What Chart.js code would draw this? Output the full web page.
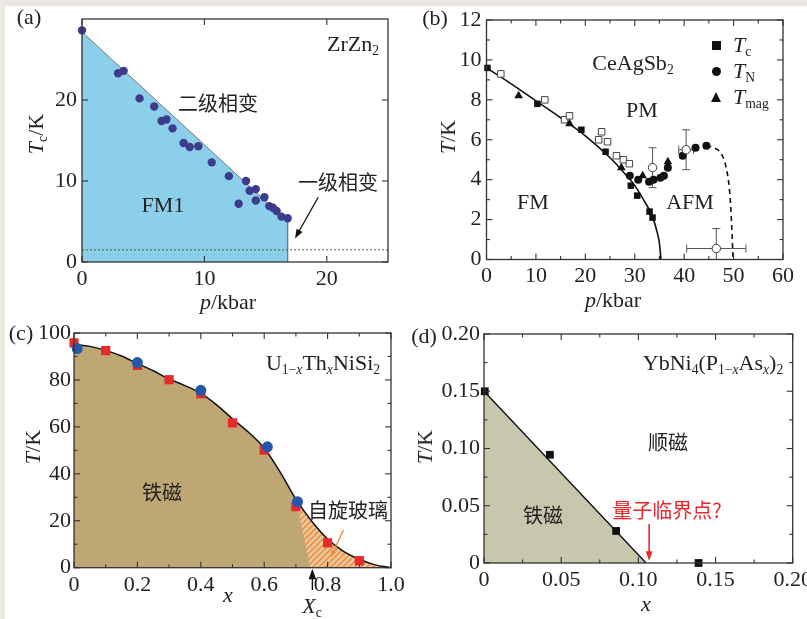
<!DOCTYPE html>
<html>
<head>
<meta charset="utf-8">
<script src="https://cdn.jsdelivr.net/npm/chart.js@4.4.1/dist/chart.umd.min.js"></script>
<style>
html, body { margin: 0; padding: 0; }
body { width: 807px; height: 619px; position: relative; overflow: hidden; background: #ebe7e1;
       font-family: 'Liberation Serif', 'Times New Roman', serif; color: #222; }
#sheet { position: absolute; left: 5px; top: 6px; right: 0; bottom: 0; background: #fff; }
canvas { position: absolute; }
.t { position: absolute; transform: translate(-50%, -50%); white-space: nowrap; font-size: 22px; line-height: 1; }
.l { position: absolute; transform: translate(0, -50%); white-space: nowrap; font-size: 22px; line-height: 1; }
.rot { transform: translate(-50%, -50%) rotate(-90deg); }
.cjk { font-family: 'Noto Sans CJK SC', sans-serif; font-size: 20px; }
sub { font-size: 62%; vertical-align: -0.28em; line-height: 0; }
.mk { position: absolute; }
</style>
</head>
<body>
<div id="sheet"></div>
<canvas id="ca" width="403" height="310" style="left:0;top:0"></canvas>
<canvas id="cb" width="404" height="310" style="left:403px;top:0"></canvas>
<canvas id="cc" width="420" height="309" style="left:0;top:310px"></canvas>
<canvas id="cd" width="404" height="309" style="left:403px;top:310px"></canvas>

<!-- (a) -->
<div class="t" style="left:29px;top:17px">(a)</div>
<div class="t" style="left:353px;top:44px">ZrZn<sub>2</sub></div>
<div class="t cjk" style="left:218px;top:103px">二级相变</div>
<div class="t" style="left:163px;top:205px">FM1</div>
<div class="t cjk" style="left:338px;top:182px">一级相变</div>
<div class="t rot" style="left:36px;top:134px"><i>T</i><sub>c</sub>/K</div>
<div class="t" style="left:228px;top:302px"><i>p</i>/kbar</div>

<!-- (b) -->
<div class="t" style="left:435px;top:18px">(b)</div>
<div class="t" style="left:633px;top:63px">CeAgSb<sub>2</sub></div>
<div class="t" style="left:642px;top:110px">PM</div>
<div class="t" style="left:533px;top:202px">FM</div>
<div class="t" style="left:690px;top:202px">AFM</div>
<div class="t rot" style="left:448px;top:137px"><i>T</i>/K</div>
<div class="t" style="left:613px;top:300px"><i>p</i>/kbar</div>
<div class="mk" style="left:712px;top:41px;width:9px;height:9px;background:#111"></div>
<div class="mk" style="left:712px;top:67px;width:9px;height:9px;border-radius:50%;background:#111"></div>
<div class="mk" style="left:711px;top:92px;width:0;height:0;border-left:5.5px solid transparent;border-right:5.5px solid transparent;border-bottom:10px solid #111"></div>
<div class="l" style="left:733px;top:45px"><i>T</i><sub>c</sub></div>
<div class="l" style="left:733px;top:71px"><i>T</i><sub>N</sub></div>
<div class="l" style="left:733px;top:97px"><i>T</i><sub>mag</sub></div>

<!-- (c) -->
<div class="t" style="left:21px;top:333px">(c)</div>
<div class="t" style="left:323px;top:363px">U<sub>1−<i>x</i></sub>Th<sub><i>x</i></sub>NiSi<sub>2</sub></div>
<div class="t cjk" style="left:162px;top:492px">铁磁</div>
<div class="t cjk" style="left:348px;top:510px">自旋玻璃</div>
<div class="t rot" style="left:33px;top:447px"><i>T</i>/K</div>
<div class="t" style="left:228px;top:595px"><i>x</i></div>
<div class="t" style="left:312px;top:606px"><i>X</i><sub>c</sub></div>

<!-- (d) -->
<div class="t" style="left:424px;top:336px">(d)</div>
<div class="t" style="left:713px;top:363px">YbNi<sub>4</sub>(P<sub>1−<i>x</i></sub>As<sub><i>x</i></sub>)<sub>2</sub></div>
<div class="t cjk" style="left:668px;top:442px">顺磁</div>
<div class="t cjk" style="left:543px;top:515px">铁磁</div>
<div class="t cjk" style="left:667px;top:510px;color:#e8262b">量子临界点?</div>
<div class="t rot" style="left:425px;top:447px"><i>T</i>/K</div>
<div class="t" style="left:646px;top:604px"><i>x</i></div>

<script>
// ---------- (a) ZrZn2 ----------
const zrP  = [0, 2.95, 3.4, 4.7, 5.9, 6.5, 6.9, 7.4, 8.3, 8.8, 9.5, 10.6, 12.0, 12.8, 13.4, 13.7, 14.2, 14.2, 14.9, 15.3, 15.6, 15.9, 16.3, 16.8];
const zrTc = [28.6, 23.3, 23.6, 20.2, 19.2, 17.4, 17.6, 16.5, 14.7, 14.2, 14.3, 12.3, 10.6, 7.2, 10.0, 8.8, 9.0, 7.6, 8.0, 6.9, 6.7, 6.3, 5.6, 5.4];
const zrEdgeP = [0, 16.8, 16.8];
const zrEdgeT = [28.4, 5.0, 0];
const zrDotP = [0, 25];
const zrDotT = [1.5, 1.5];
const aTicksX = [0, 10, 20], aLabelsX = ['0', '10', '20'];
const aTicksY = [0, 10, 20], aLabelsY = ['0', '10', '20'];

// ---------- (b) CeAgSb2 ----------
const tcP = [0.2, 10.3, 19.2, 24.1, 29.2, 30.5, 33.0, 33.6];
const tcT = [9.6, 7.8, 6.5, 5.4, 3.7, 3.2, 2.4, 2.1];
const tcOpenP = [2.9, 11.8, 15.8, 16.8, 23.3, 22.7, 24.5, 26.3, 27.7, 28.9];
const tcOpenT = [9.3, 8.0, 7.0, 7.2, 6.4, 6.0, 5.9, 5.2, 5.0, 4.8];
const tnP = [29.0, 30.7, 32.9, 33.8, 35.2, 35.9, 36.7, 39.7, 42.3, 44.5];
const tnT = [4.2, 4.0, 3.9, 4.0, 4.1, 4.2, 4.6, 5.2, 5.6, 5.7];
const tmagP = [6.5, 16.8, 27.3, 31.6, 36.7];
const tmagT = [8.2, 6.8, 4.6, 4.2, 4.9];
const openP  = [33.6, 40.4, 46.5];
const openT  = [4.6, 5.5, 0.55];
const openDp = [0, 1.5, 6.0];
const openDT = [1.0, 1.0, 1.0];
const tcCurveP = [0, 5, 10, 15, 20, 25, 28, 30, 32, 33.5, 34.5, 35, 35.3];
const tcCurveT = [9.6, 8.8, 7.95, 7.1, 6.2, 5.1, 4.3, 3.7, 2.9, 2.2, 1.4, 0.8, 0];
const tnDashP = [44.5, 46, 47.5, 48.5, 49.2, 49.6, 49.9];
const tnDashT = [5.7, 5.6, 5.3, 4.6, 3.4, 1.8, 0];
const bTicksX = [0, 10, 20, 30, 40, 50, 60], bLabelsX = ['0', '10', '20', '30', '40', '50', '60'];
const bTicksY = [0, 2, 4, 6, 8, 10, 12], bLabelsY = ['0', '2', '4', '6', '8', '10', '12'];

// ---------- (c) U1-xThxNiSi2 ----------
const uSqX = [0, 0.1, 0.2, 0.3, 0.4, 0.5, 0.6, 0.7, 0.8, 0.9];
const uSqT = [95.8, 92.5, 86.2, 80.1, 74.1, 61.7, 50.1, 26.0, 10.6, 3.0];
const uCiX = [0.01, 0.2, 0.4, 0.61, 0.705];
const uCiT = [93.4, 87.4, 75.6, 51.5, 28.1];
const uCurveX = [0, 0.05, 0.1, 0.15, 0.2, 0.25, 0.3, 0.35, 0.4, 0.45, 0.5, 0.55, 0.6, 0.65, 0.7, 0.75, 0.8, 0.85, 0.9, 0.95, 1.0];
const uCurveT = [95.2, 94.3, 92.6, 90.2, 87.0, 83.9, 80.4, 77.6, 74.3, 69.4, 63.4, 57.8, 51.0, 40.8, 29.2, 19.8, 12.2, 7.0, 3.6, 1.2, 0];
const glassEdgeX = [0.745];
const glassEdgeT = [0];
const cTicksX = [0, 0.2, 0.4, 0.6, 0.8, 1.0], cLabelsX = ['0', '0.2', '0.4', '0.6', '0.8', '1.0'];
const cTicksY = [0, 20, 40, 60, 80, 100], cLabelsY = ['0', '20', '40', '60', '80', '100'];

// ---------- (d) YbNi4(P1-xAsx)2 ----------
const ybX = [0.0005, 0.0427, 0.0856, 0.139];
const ybT = [0.150, 0.0945, 0.028, 0.0];
const ybLineX = [0, 0.105];
const ybLineT = [0.150, 0];
const dTicks = [0, 0.05, 0.10, 0.15, 0.20], dLabels = ['0', '0.05', '0.10', '0.15', '0.20'];

const pts = (xs, ys) => xs.map((x, i) => ({x: x, y: ys[i]}));
const FONT = "'Liberation Serif', 'Times New Roman', serif";

function arrow(ctx, x1, y1, x2, y2, color, w, head) {
    const ang = Math.atan2(y2 - y1, x2 - x1);
    ctx.strokeStyle = color; ctx.fillStyle = color; ctx.lineWidth = w;
    ctx.beginPath();
    ctx.moveTo(x1, y1);
    ctx.lineTo(x2 - Math.cos(ang) * head * 0.8, y2 - Math.sin(ang) * head * 0.8);
    ctx.stroke();
    ctx.beginPath();
    ctx.moveTo(x2, y2);
    ctx.lineTo(x2 - head * Math.cos(ang - 0.35), y2 - head * Math.sin(ang - 0.35));
    ctx.lineTo(x2 - head * Math.cos(ang + 0.35), y2 - head * Math.sin(ang + 0.35));
    ctx.closePath();
    ctx.fill();
}

// frame, inward ticks on all sides, error bars and arrows
const frameTicks = {
    id: 'frameTicks',
    beforeDatasetsDraw(chart, args, o) {
        const {ctx, scales: {x, y}} = chart;
        ctx.save();
        ctx.strokeStyle = '#555';
        ctx.lineWidth = 1;
        (o.errors || []).forEach(e => {
            const px = x.getPixelForValue(e.x), py = y.getPixelForValue(e.y);
            ctx.beginPath();
            if (e.dy) {
                const lo = e.y - e.dy, y1 = y.getPixelForValue(Math.max(lo, 0)), y2 = y.getPixelForValue(e.y + e.dy);
                ctx.moveTo(px, y1); ctx.lineTo(px, y2);
                ctx.moveTo(px - 4, y2); ctx.lineTo(px + 4, y2);
                if (lo > 0) { ctx.moveTo(px - 4, y1); ctx.lineTo(px + 4, y1); }
            }
            if (e.dx) {
                const x1 = x.getPixelForValue(e.x - e.dx), x2 = x.getPixelForValue(e.x + e.dx);
                ctx.moveTo(x1, py); ctx.lineTo(x2, py);
                ctx.moveTo(x1, py - 4); ctx.lineTo(x1, py + 4);
                ctx.moveTo(x2, py - 4); ctx.lineTo(x2, py + 4);
            }
            ctx.stroke();
        });
        ctx.restore();
    },
    afterDraw(chart, args, o) {
        const {ctx, chartArea: a, scales: {x, y}} = chart;
        ctx.save();
        ctx.strokeStyle = '#333';
        ctx.lineWidth = 1.3;
        ctx.strokeRect(a.left, a.top, a.right - a.left, a.bottom - a.top);
        ctx.lineWidth = 1.1;
        const seg = (x1, y1, x2, y2) => { ctx.beginPath(); ctx.moveTo(x1, y1); ctx.lineTo(x2, y2); ctx.stroke(); };
        const tx = (vals, len) => vals.forEach(v => {
            const p = x.getPixelForValue(v);
            seg(p, a.bottom, p, a.bottom - len); seg(p, a.top, p, a.top + len);
        });
        const ty = (vals, len) => vals.forEach(v => {
            const p = y.getPixelForValue(v);
            seg(a.left, p, a.left + len, p); seg(a.right, p, a.right - len, p);
        });
        tx(o.xMajor || [], 6); tx(o.xMinor || [], 3.5);
        ty(o.yMajor || [], 6); ty(o.yMinor || [], 3.5);
        (o.arrows || []).forEach(r => {
            arrow(ctx, x.getPixelForValue(r.from[0]), y.getPixelForValue(r.from[1]),
                  x.getPixelForValue(r.to[0]), y.getPixelForValue(r.to[1]), r.color, r.w, r.head);
        });
        ctx.restore();
    }
};

function axis(min, max, ticks, labels, size, pad, fit, isX) {
    return {
        type: 'linear', min: min, max: max,
        grid: {display: false, drawTicks: false},
        border: {display: false},
        afterBuildTicks: s => { s.ticks = ticks.map(v => ({value: v})); },
        afterFit: s => {
            if (isX) { s.height = fit; s.paddingLeft = 0; s.paddingRight = 0; }
            else { s.width = fit; s.paddingTop = 0; s.paddingBottom = 0; }
        },
        ticks: {
            autoSkip: false, maxRotation: 0, minRotation: 0, padding: pad, color: '#222',
            font: {family: FONT, size: size},
            callback: (v, i) => labels[i]
        }
    };
}

function build(id, area, xa, ya, datasets, deco) {
    const cv = document.getElementById(id);
    return new Chart(cv, {
        type: 'line',
        data: {datasets: datasets},
        options: {
            responsive: false, animation: false, events: [],
            layout: {padding: {left: area.l - 50, top: area.t, right: cv.width - area.r, bottom: 0}},
            plugins: {legend: {display: false}, tooltip: {enabled: false}, frameTicks: deco},
            scales: {
                x: axis(xa.min, xa.max, xa.ticks, xa.labels, xa.size, xa.pad, cv.height - area.b, true),
                y: axis(ya.min, ya.max, ya.ticks, ya.labels, ya.size, ya.pad, 50, false)
            }
        },
        plugins: [frameTicks]
    });
}

const marks = (data, style, r, bg, border, order) => ({
    data: data, showLine: false, pointStyle: style, pointRadius: r,
    pointBackgroundColor: bg, pointBorderColor: border || bg, pointBorderWidth: border ? 1 : 0,
    order: order, clip: false
});

// (a)
build('ca', {l: 82, t: 19, r: 388, b: 262},
    {min: 0, max: 25, ticks: aTicksX, labels: aLabelsX, size: 22, pad: 4},
    {min: 0, max: 30, ticks: aTicksY, labels: aLabelsY, size: 22, pad: 5},
    [
        {data: pts(zrEdgeP, zrEdgeT), borderColor: '#777', borderWidth: 1, backgroundColor: '#8bcfea',
         fill: 'origin', pointRadius: 0, tension: 0, order: 5},
        {data: pts(zrDotP, zrDotT), borderColor: '#555', borderWidth: 1, borderDash: [2, 2],
         fill: false, pointRadius: 0, order: 4},
        marks(pts(zrP, zrTc), 'circle', 4.2, '#3d3b8c', null, 1)
    ],
    {xMajor: aTicksX, yMajor: aTicksY,
     arrows: [{from: [19.3, 8.0], to: [17.4, 2.9], color: '#111', w: 1.3, head: 10}]});

// (b)
build('cb', {l: 486.5 - 403, t: 20, r: 783 - 403, b: 259.5},
    {min: 0, max: 60, ticks: bTicksX, labels: bLabelsX, size: 22, pad: 4},
    {min: 0, max: 12, ticks: bTicksY, labels: bLabelsY, size: 22, pad: 5},
    [
        {data: pts(tcCurveP, tcCurveT), borderColor: '#111', borderWidth: 1.6, fill: false,
         pointRadius: 0, cubicInterpolationMode: 'monotone', order: 6},
        {data: pts(tnDashP, tnDashT), borderColor: '#111', borderWidth: 1.6, borderDash: [5, 4], fill: false,
         pointRadius: 0, cubicInterpolationMode: 'monotone', order: 6},
        marks(pts(tcOpenP, tcOpenT), 'rect', 4.6, '#fff', '#444', 3),
        marks(pts(tcP, tcT), 'rect', 4.6, '#111', null, 2),
        marks(pts(tmagP, tmagT), 'triangle', 5, '#111', null, 2),
        marks(pts(tnP, tnT), 'circle', 4, '#111', null, 2),
        marks(pts(openP, openT), 'circle', 4.2, '#fff', '#333', 1)
    ],
    {xMajor: bTicksX, xMinor: [5, 15, 25, 35, 45, 55], yMajor: bTicksY, yMinor: [1, 3, 5, 7, 9, 11],
     errors: openP.map((p, i) => ({x: p, y: openT[i], dx: openDp[i], dy: openDT[i]}))});

// (c)
const cctx = document.getElementById('cc').getContext('2d');
const hc = document.createElement('canvas');
hc.width = 6; hc.height = 6;
const hg = hc.getContext('2d');
hg.fillStyle = '#e9c79a'; hg.fillRect(0, 0, 6, 6);
hg.strokeStyle = '#ee8a3c'; hg.lineWidth = 1.4;
hg.beginPath();
hg.moveTo(0, 6); hg.lineTo(6, 0);
hg.moveTo(-3, 3); hg.lineTo(3, -3);
hg.moveTo(3, 9); hg.lineTo(9, 3);
hg.stroke();
const hatch = cctx.createPattern(hc, 'repeat');

const glassIdx = uCurveX.map((x, i) => i).filter(i => uCurveX[i] >= 0.7);
const glassX = glassIdx.map(i => uCurveX[i]).concat(glassEdgeX);
const glassT = glassIdx.map(i => uCurveT[i]).concat(glassEdgeT);

build('cc', {l: 74, t: 23, r: 391, b: 567.7 - 310},
    {min: 0, max: 1, ticks: cTicksX, labels: cLabelsX, size: 22, pad: 4},
    {min: 0, max: 100, ticks: cTicksY, labels: cLabelsY, size: 22, pad: 3},
    [
        {data: pts(uCurveX, uCurveT), borderWidth: 0, backgroundColor: '#bea775', fill: 'origin',
         pointRadius: 0, cubicInterpolationMode: 'monotone', order: 10},
        {data: pts(glassX, glassT), borderWidth: 0, backgroundColor: hatch, fill: 'shape',
         pointRadius: 0, tension: 0, order: 9},
        {data: pts(uCurveX, uCurveT), borderColor: '#111', borderWidth: 1.5, fill: false,
         pointRadius: 0, cubicInterpolationMode: 'monotone', order: 8},
        marks(pts(uSqX, uSqT), 'rect', 6.5, '#e62a2a', null, 2),
        marks(pts(uCiX, uCiT), 'circle', 5.5, '#2456aa', null, 1)
    ],
    {xMajor: cTicksX, xMinor: [0.1, 0.3, 0.5, 0.7, 0.9], yMajor: cTicksY, yMinor: [10, 30, 50, 70, 90],
     arrows: [
        {from: [0.85, 16], to: [0.81, 4.5], color: '#f0883a', w: 1.3, head: 7},
        {from: [0.752, -9.5], to: [0.752, -0.5], color: '#111', w: 1.4, head: 11}
     ]});

// (d)
build('cd', {l: 484 - 403, t: 24, r: 792.7 - 403, b: 563 - 310},
    {min: 0, max: 0.2, ticks: dTicks, labels: dLabels, size: 22, pad: 4},
    {min: 0, max: 0.2, ticks: dTicks, labels: dLabels, size: 22, pad: 4},
    [
        {data: pts(ybLineX, ybLineT), borderColor: '#111', borderWidth: 1.4, backgroundColor: '#c8c6ac',
         fill: 'origin', pointRadius: 0, tension: 0, order: 5},
        marks(pts(ybX, ybT), 'rect', 5.5, '#111', null, 1)
    ],
    {xMajor: dTicks, xMinor: [0.025, 0.075, 0.125, 0.175], yMajor: dTicks, yMinor: [0.025, 0.075, 0.125, 0.175],
     arrows: [{from: [0.107, 0.034], to: [0.107, 0.002], color: '#e8262b', w: 1.6, head: 10}]});
</script>
</body>
</html>
